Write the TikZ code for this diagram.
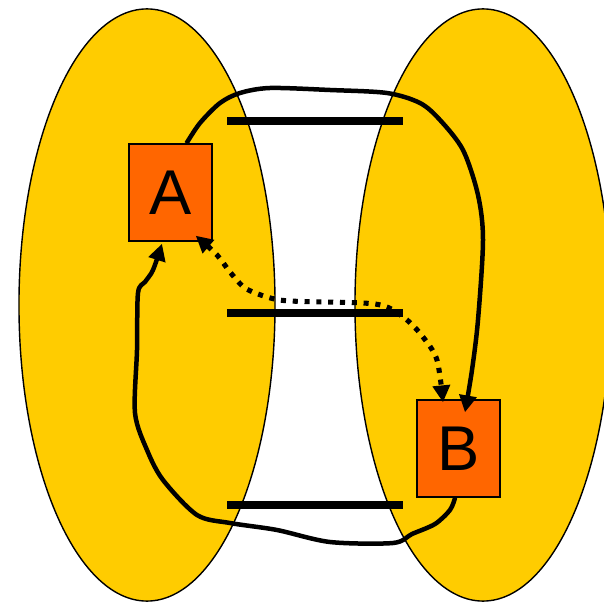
\documentclass[tikz,border=0pt]{standalone}
\usepackage{fontspec}
\setmainfont{Liberation Sans}
\usetikzlibrary{arrows.meta,calc}
\definecolor{lobe}{HTML}{FFCC00}
\definecolor{site}{HTML}{FF6600}
\begin{document}
\begin{tikzpicture}[x=0.025cm, y=-0.025cm, >={Triangle[length=12pt,width=12pt]},
	lobe/.style={draw, line width=1pt, fill=lobe},
	site/.style={draw, line width=1pt, fill=site, minimum width=2.075cm, minimum height=2.425cm, inner sep=0pt, font=\fontsize{45}{54}\selectfont},
	rung/.style={line width=5.5pt},
	route/.style={line width=3.2pt, line join=round, ->},
	hop/.style={line width=3.6pt, dash pattern=on 3.6pt off 4.8pt, <->}]
	\clip (0,0) rectangle (604,602);
	\draw[lobe] (147,305) ellipse [x radius=3.2cm, y radius=7.4cm];
	\draw[lobe] (483,305) ellipse [x radius=3.2cm, y radius=7.4cm];
	\foreach \y in {121,313,505}
		\draw[rung] (227,\y) -- (403,\y);
	\node[site] (A) at (170.5,192.5) {A};
	\node[site] (B) at (458.5,448.5) {B};
	% A to B over the top
	\draw[route] plot[smooth] coordinates {(A.72) (200,123) (220,103) (240,93) (270,88) (330,90) (387,93) (420,103) (440,120) (463,150) (478,195) (483,240) (478,320) (472,370) ($(B.north)+(6.5,13)$)};
	% B back to A underneath
	\draw[route] plot[smooth] coordinates {(B.266) (450,510) (435,524) (412,534) (393,543) (330,542) (277,530) (230,523) (197,515) (163,480) (147,450) (135,413) (137,350) (138,293) (145,282) (153,270) ($(A.south)+(-8.5,2)$)};
	% direct link
	\draw[hop] plot[smooth] coordinates {($(A.south east)+(-17,-6)$) (217,255) (230,272) (245,288) (267,297) (290,301) (363,303) (387,307) (407,320) (423,337) (437,360) ($(B.north)+(-15.5,3)$)};
\end{tikzpicture}
\end{document}
